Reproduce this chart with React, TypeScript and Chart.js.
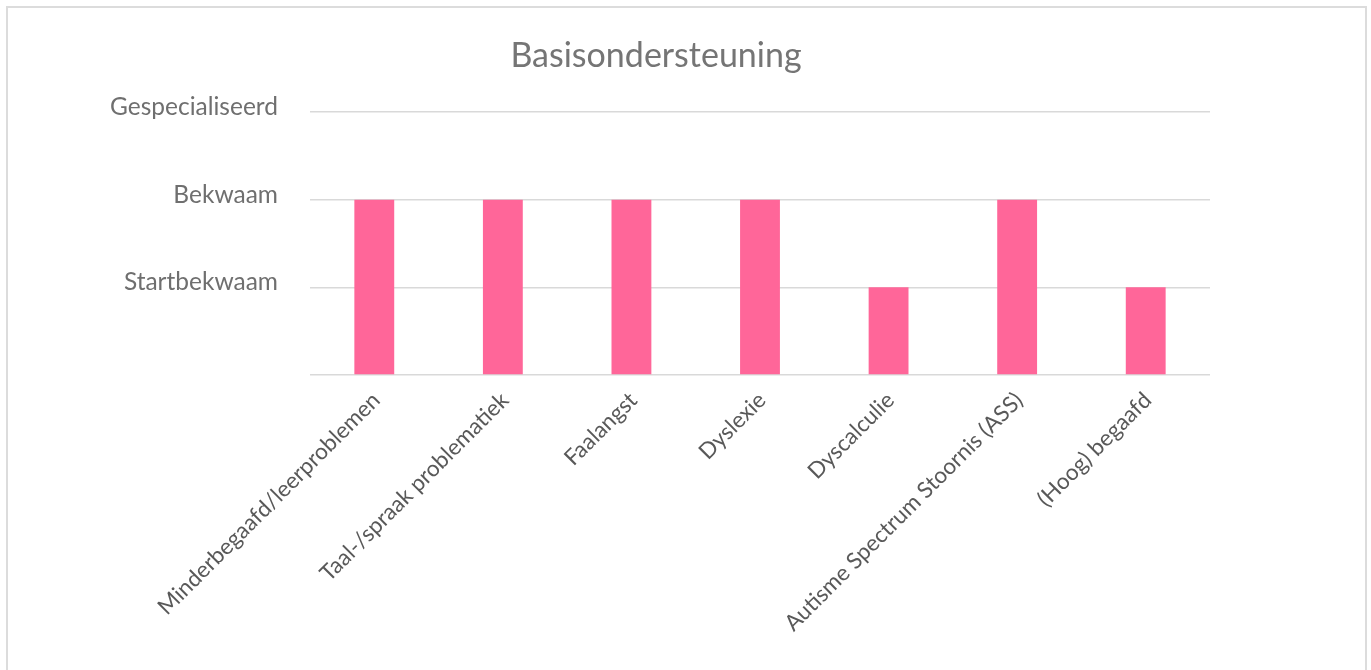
import { useEffect, useRef } from 'react';
import { Chart, registerables } from 'chart.js';

Chart.register(...registerables);

const categories = [
  'Minderbegaafd/leerproblemen',
  'Taal-/spraak problematiek',
  'Faalangst',
  'Dyslexie',
  'Dyscalculie',
  'Autisme Spectrum Stoornis (ASS)',
  '(Hoog) begaafd',
];
const levels = [2, 2, 2, 2, 1, 2, 1];
const levelLabels = ['', 'Startbekwaam', 'Bekwaam', 'Gespecialiseerd'];
const chartTitle = 'Basisondersteuning';

const FONT = 'Lato';

export default function App() {
  const ref = useRef<HTMLCanvasElement | null>(null);

  useEffect(() => {
    if (!ref.current) return;
    const chart = new Chart(ref.current, {
      type: 'bar',
      data: {
        labels: categories,
        datasets: [
          {
            data: levels,
            backgroundColor: '#FF6699',
            borderWidth: 0,
            categoryPercentage: 1,
            barPercentage: 0.31,
          },
        ],
      },
      options: {
        animation: false,
        responsive: false,
        maintainAspectRatio: false,
        layout: { padding: { left: 102, right: 161, top: 0, bottom: 0 } },
        plugins: {
          legend: { display: false },
          tooltip: { enabled: false },
          title: {
            display: true,
            text: chartTitle,
            color: '#757575',
            font: { family: FONT, size: 34, weight: 'normal' },
            padding: { top: 36, bottom: 35.2 },
          },
        },
        scales: {
          x: {
            grid: { display: false },
            border: { display: false },
            ticks: {
              autoSkip: false,
              minRotation: 45,
              maxRotation: 45,
              color: '#595959',
              font: { family: FONT, size: 22.5 },
              padding: 4,
              labelOffset: 2,
            },
            afterFit: (s: any) => {
              s.height = 670 - 375;
            },
          },
          y: {
            min: 0,
            max: 3,
            grid: { color: '#d9d9d9', lineWidth: 1.5, drawTicks: false },
            border: { display: false },
            ticks: {
              stepSize: 1,
              color: '#6f6f6f',
              font: { family: FONT, size: 24.5 },
              padding: 32,
              labelOffset: -5,
              callback: (v: any) => levelLabels[Number(v)] ?? '',
            },
            afterFit: (s: any) => {
              s.width = 310 - 102;
            },
          },
        },
      },
    });
    return () => chart.destroy();
  }, []);

  return (
    <div style={{ position: 'fixed', left: 0, top: 0, width: 1371, height: 670, background: '#fff', overflow: 'hidden' }}>
      <div
        style={{
          position: 'absolute',
          left: 6,
          top: 6,
          width: 1357,
          height: 700,
          border: '2px solid #dcdcdc',
        }}
      />
      <canvas ref={ref} width={1371} height={670} style={{ position: 'absolute', left: 0, top: 0, width: 1371, height: 670 }} />
    </div>
  );
}
